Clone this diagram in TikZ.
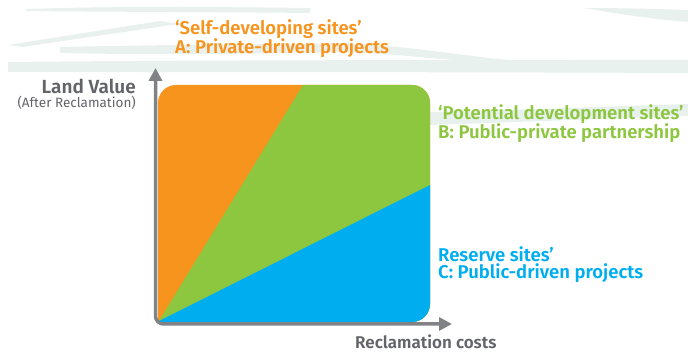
\documentclass[tikz,border=0pt]{standalone}
\usepackage{fontspec}
\setmainfont{Fira Sans}[BoldFont={Fira Sans SemiBold}]
\usetikzlibrary{arrows.meta}
\definecolor{orangeA}{RGB}{247,148,30}
\definecolor{greenB}{RGB}{141,198,63}
\definecolor{blueC}{RGB}{0,174,239}
\definecolor{axisgray}{RGB}{128,130,133}
\definecolor{textgray}{RGB}{99,100,104}
\definecolor{mint}{RGB}{232,241,237}
\begin{document}
\begin{tikzpicture}[x=1pt,y=1pt,
  lbl/.style={inner sep=0pt, font=\fontsize{18.5}{20}\selectfont\bfseries},
  axislbl/.style={inner sep=0pt, text=textgray, font=\fontsize{17}{19}\selectfont\bfseries},
  sublbl/.style={inner sep=0pt, text=textgray, font=\fontsize{13.5}{15}\selectfont},
  band/.style={fill=mint, draw=none},
  axisline/.style={draw=axisgray, line width=3.5pt, rounded corners=8pt,
    {Triangle[length=13pt,width=13pt]}-{Triangle[length=13pt,width=13pt]}}]
\useasboundingbox (0,0) rectangle (688,352);
% background bands
\path[band] (26,343) .. controls (120,346) and (220,345) .. (310,344) -- (310,339) .. controls (220,340) and (120,340) .. (26,341) -- cycle;
\path[band] (583,344) .. controls (620,344) and (660,343) .. (688,342) -- (688,330) .. controls (650,333) and (620,338) .. (583,344) -- cycle;
\path[band] (160,331) -- (178,328) -- (22,305) -- (8,307) -- cycle;
\path[band] (60,305) .. controls (200,308) and (300,308) .. (344,309) .. controls (420,305) and (470,295) .. (510,292) -- (510,288) .. controls (440,292) and (400,298) .. (344,300) .. controls (250,298) and (150,297) .. (60,299) -- cycle;
\path[band] (8,290) .. controls (200,292) and (450,292) .. (688,292) -- (688,279) .. controls (450,280) and (200,280) .. (8,280) -- cycle;
\path[band] (430,240) .. controls (520,242) and (620,246) .. (688,248) -- (688,236) .. controls (620,234) and (520,230) .. (430,227) -- cycle;
% colored square
\begin{scope}
\clip (158,30) -- (158,249) arc[start angle=180,end angle=90,radius=18]
  -- (412,267) arc[start angle=90,end angle=0,radius=18]
  -- (430,48) arc[start angle=0,end angle=-90,radius=18] -- cycle;
\fill[orangeA] (150,20) rectangle (440,280);
\fill[greenB] (152.3,20) -- (310.9,280) -- (440,280) -- (440,20) -- cycle;
\fill[blueC] (150,26.5) -- (440,172) -- (440,20) -- (150,20) -- cycle;
\end{scope}
% axes
\coordinate (ytip) at (155.5,284);
\coordinate (orig) at (155.5,28);
\coordinate (xtip) at (452,28);
\draw[axisline] (ytip) -- (orig) -- (xtip);
% labels
\node[lbl, text=orangeA, anchor=base west] (a1) at (175,317) {‘Self-developing sites’};
\node[lbl, text=orangeA, anchor=base west] (a2) at (175,298.7) {A: Private-driven projects};
\node[lbl, text=greenB, anchor=base west] (b1) at (438,232.7) {‘Potential development sites’};
\node[lbl, text=greenB, anchor=base west] (b2) at (438,213.7) {B: Public-private partnership};
\node[lbl, text=blueC, anchor=base west] (c1) at (438,90.3) {Reserve sites’};
\node[lbl, text=blueC, anchor=base west] (c2) at (438,73) {C: Public-driven projects};
\node[axislbl, font=\fontsize{19}{21}\selectfont\bfseries, anchor=base east] (lv) at (136,258) {Land Value};
\node[sublbl, anchor=base east] (ar) at (136,244.3) {(After Reclamation)};
\node[axislbl, anchor=base west] (rc) at (355,3.5) {Reclamation costs};
\end{tikzpicture}
\end{document}
